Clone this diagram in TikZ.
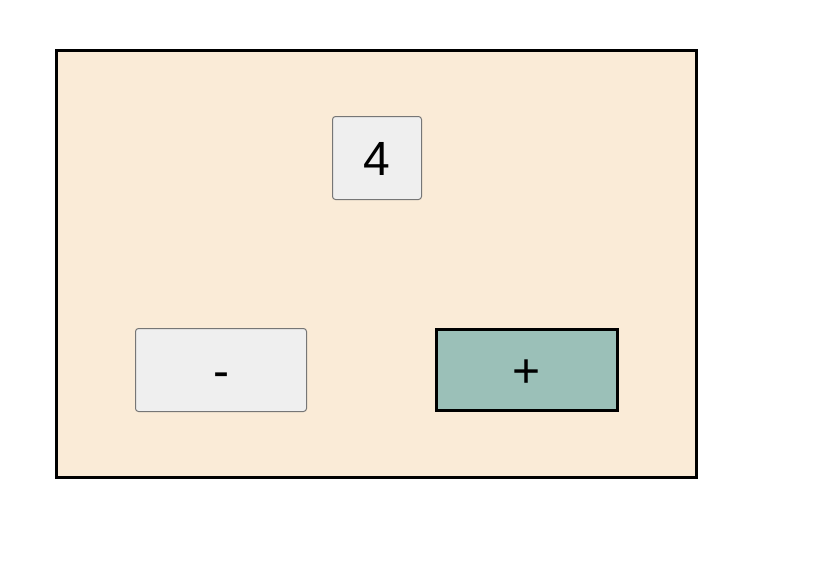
\documentclass[tikz,border=0pt]{standalone}
\usepackage{fontspec}
\setmainfont{Liberation Sans}
\tikzset{
  box/.style={
    rectangle,
    inner sep=0pt,
    text height=34pt,
    text depth=0pt,
    font=\fontsize{48}{58}\selectfont
  },
  frame-box/.style={
    box,
    line width=3pt,
    draw=black,
    fill=framebeige,
    minimum width=640pt,
    minimum height=427pt
  },
  btn-grey/.style={
    box,
    line width=1pt,
    draw=btnborder,
    fill=btngrey,
    rounded corners=3pt
  },
  btn-plus/.style={
    box,
    line width=3pt,
    draw=black,
    fill=btnteal,
    minimum width=181pt,
    minimum height=81pt
  }
}
\definecolor{framebeige}{RGB}{250,235,215}
\definecolor{btngrey}{RGB}{239,239,239}
\definecolor{btnborder}{RGB}{118,118,118}
\definecolor{btnteal}{RGB}{155,192,184}

\begin{document}
\begin{tikzpicture}[x=1pt,y=-1pt]
  \useasboundingbox (0,0) rectangle (830,581);

  % outer panel
  \node[frame-box] (panel) at (376.5,264) {};

  % counter display
  \node[btn-grey, minimum width=89pt, minimum height=83pt] (count) at (377,158) {4};

  % buttons
  \node[btn-grey, minimum width=171pt, minimum height=83pt] (minus) at (221,370) {-};
  \node[btn-plus] (plus) at (527,370) {+};

\end{tikzpicture}
\end{document}
